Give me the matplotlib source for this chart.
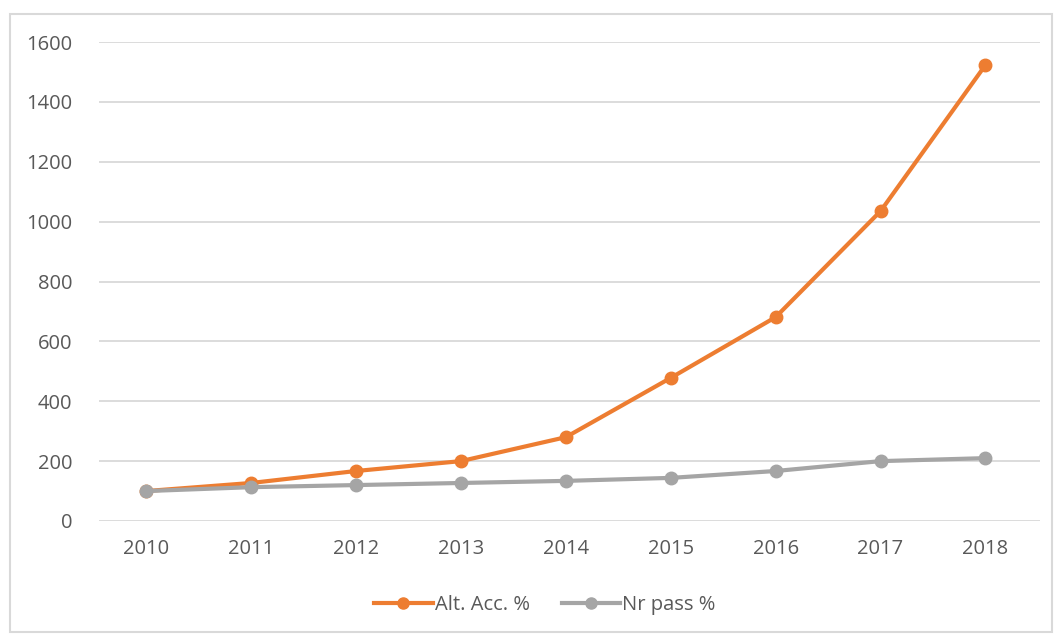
import matplotlib
matplotlib.use("Agg")
import matplotlib.pyplot as plt
from matplotlib.patches import Rectangle
from matplotlib.lines import Line2D

years = ["2010", "2011", "2012", "2013", "2014", "2015", "2016", "2017", "2018"]
alt_acc = [100, 127, 167, 200, 280, 478, 681, 1035, 1523]
nr_pass = [100, 113, 120, 127, 134, 144, 167, 200, 210]
y_ticks = [0, 200, 400, 600, 800, 1000, 1200, 1400, 1600]

ORANGE = "#ED7D31"
GRAY = "#A5A5A5"
GRID = "#D9D9D9"
TEXT = "#595959"

plt.rcParams["font.family"] = ["Open Sans", "DejaVu Sans"]

W, H = 1059, 637
fig = plt.figure(figsize=(W / 100, H / 100), dpi=100)
fig.patch.set_facecolor("white")

# chart frame
fig.patches.append(Rectangle((10 / W, 1 - 632 / H), (1052 - 10) / W, (632 - 14) / H,
                             transform=fig.transFigure, fill=False,
                             edgecolor="#D9D9D9", linewidth=1.5))

left, right, top, bottom = 99, 1040, 42, 521
ax = fig.add_axes([left / W, 1 - bottom / H, (right - left) / W, (bottom - top) / H])
x = list(range(len(years)))

ax.plot(x, alt_acc, color=ORANGE, lw=3.0, marker="o", ms=9, zorder=3,
        solid_capstyle="round", label="Alt. Acc. %")
ax.plot(x, nr_pass, color=GRAY, lw=3.0, marker="o", ms=9, zorder=3,
        solid_capstyle="round", label="Nr pass %")

ax.set_xlim(-0.45, 8.52)
ax.set_ylim(0, 1600)
ax.set_yticks(y_ticks)
ax.set_xticks(x)
ax.set_xticklabels(years)
ax.grid(axis="y", color=GRID, lw=1.3)
ax.set_axisbelow(True)
for s in ax.spines.values():
    s.set_visible(False)
ax.tick_params(axis="both", length=0, labelsize=14.5, colors=TEXT)
ax.tick_params(axis="y", pad=19)
ax.tick_params(axis="x", pad=13)

handles = [Line2D([0], [0], color=ORANGE, lw=3.0, marker="o", ms=8),
           Line2D([0], [0], color=GRAY, lw=3.0, marker="o", ms=8)]
fig.legend(handles, ["Alt. Acc. %", "Nr pass %"], loc="center",
           bbox_to_anchor=(545 / W, 1 - 605 / H), ncol=2, frameon=False,
           fontsize=14.5, labelcolor=TEXT, handlelength=2.9, handletextpad=0.1,
           columnspacing=1.6)

fig.savefig("out.png", dpi=100)
